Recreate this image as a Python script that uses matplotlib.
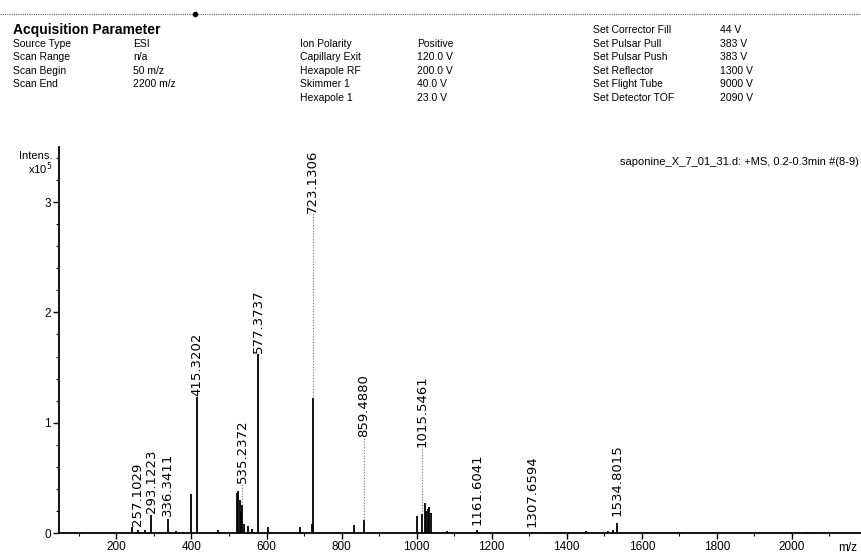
import numpy as np
import matplotlib

matplotlib.use("Agg")
import matplotlib.pyplot as plt
from matplotlib.lines import Line2D
from matplotlib.ticker import MultipleLocator

# acquisition header: (label, value) per column
COL1 = [("Source Type", "ESI"), ("Scan Range", "n/a"), ("Scan Begin", "50 m/z"),
        ("Scan End", "2200 m/z")]
COL2 = [("Ion Polarity", "Positive"), ("Capillary Exit", "120.0 V"),
        ("Hexapole RF", "200.0 V"), ("Skimmer 1", "40.0 V"), ("Hexapole 1", "23.0 V")]
COL3 = [("Set Corrector Fill", "44 V"), ("Set Pulsar Pull", "383 V"),
        ("Set Pulsar Push", "383 V"), ("Set Reflector", "1300 V"),
        ("Set Flight Tube", "9000 V"), ("Set Detector TOF", "2090 V")]
TITLE = "saponine_X_7_01_31.d: +MS, 0.2-0.3min #(8-9)"

# stick spectrum, intensity in units of 1e5
peak_mz = [241, 257.1, 275, 293.1, 336.3, 360, 398, 415.3, 470,
           520, 524, 528, 532, 535.2, 541, 550, 560, 577.4, 605,
           690, 720, 723.1, 833, 859.5,
           1000, 1015.5, 1022, 1026, 1030, 1034, 1038, 1080,
           1161.6, 1307.7, 1360, 1450, 1510, 1522, 1534.8, 1700, 2040, 2055]
peak_int = [0.05, 0.03, 0.03, 0.16, 0.13, 0.02, 0.35, 1.23, 0.03,
            0.36, 0.38, 0.30, 0.20, 0.25, 0.08, 0.06, 0.04, 1.62, 0.05,
            0.05, 0.08, 1.22, 0.07, 0.12,
            0.15, 0.17, 0.27, 0.20, 0.22, 0.24, 0.18, 0.02,
            0.03, 0.01, 0.01, 0.015, 0.02, 0.03, 0.09, 0.01, 0.01, 0.01]

# annotated peaks: m/z text, where the label starts (intensity units)
lab_mz = [257.1029, 293.1223, 336.3411, 415.3202, 535.2372, 577.3737, 723.1306,
          859.4880, 1015.5461, 1161.6041, 1307.6594, 1534.8015]
lab_peak = [0.03, 0.16, 0.13, 1.23, 0.25, 1.62, 1.22, 0.12, 0.17, 0.03, 0.01, 0.09]
lab_base = [0.06, 0.18, 0.15, 1.24, 0.45, 1.63, 2.90, 0.87, 0.78, 0.07, 0.05, 0.15]

X_TICKS = [200, 400, 600, 800, 1000, 1200, 1400, 1600, 1800, 2000]
Y_TICKS = [0, 1, 2, 3]

W, H = 861, 555
plt.rcParams["font.family"] = ["Liberation Sans", "DejaVu Sans"]

fig = plt.figure(figsize=(W / 100, H / 100), dpi=100)
ax = fig.add_axes([59 / W, 1 - 533 / H, 1 - 59 / W, (533 - 147) / H])

ax.vlines(peak_mz, 0, peak_int, color="black", lw=1.3)
for mz, pk, base in zip(lab_mz, lab_peak, lab_base):
    if base - pk > 0.08:
        ax.plot([mz, mz], [pk, base], color="0.45", lw=0.8, ls=(0, (1, 1.5)))
    ax.text(mz, base, f"{mz:.4f}", rotation=90, ha="center", va="bottom",
            fontsize=9.5, family="DejaVu Sans")

ax.set_xlim(47, 2184)
ax.set_ylim(0, 3.5)
ax.set_xticks(X_TICKS)
ax.set_yticks(Y_TICKS)
ax.xaxis.set_minor_locator(MultipleLocator(100))
ax.yaxis.set_minor_locator(MultipleLocator(0.2))
ax.tick_params(labelsize=8.5, width=1, length=4, direction="out", pad=2)
ax.tick_params(which="minor", length=2, width=0.8)
for s in ("top", "right"):
    ax.spines[s].set_visible(False)
for s in ("left", "bottom"):
    ax.spines[s].set_linewidth(1.3)

# header block
fig.add_artist(Line2D([0, 1], [1 - 14 / H] * 2, color="0.35", lw=0.8, ls=(0, (1, 1))))
fig.add_artist(Line2D([195 / W], [1 - 14 / H], marker="o", ms=3, color="black"))
fig.text(13 / W, 1 - 30 / H, "Acquisition Parameter", fontsize=10, weight="bold", va="center")
rows = [44, 57, 71, 84, 98]
for (lab, val), y in zip(COL1, rows):
    fig.text(13 / W, 1 - y / H, lab, fontsize=7.5, va="center")
    fig.text(133 / W, 1 - y / H, val, fontsize=7.5, va="center")
for (lab, val), y in zip(COL2, rows):
    fig.text(300 / W, 1 - y / H, lab, fontsize=7.5, va="center")
    fig.text(417 / W, 1 - y / H, val, fontsize=7.5, va="center")
for (lab, val), y in zip(COL3, [30] + rows):
    fig.text(593 / W, 1 - y / H, lab, fontsize=7.5, va="center")
    fig.text(720 / W, 1 - y / H, val, fontsize=7.5, va="center")

fig.text(52 / W, 1 - 156 / H, "Intens.", fontsize=8, ha="right", va="center")
fig.text(52 / W, 1 - 169 / H, "x10$^5$", fontsize=8, ha="right", va="center")
fig.text(859 / W, 1 - 162 / H, TITLE, fontsize=8, ha="right", va="center")
fig.text(848 / W, 1 - 548 / H, "m/z", fontsize=8.5, ha="center", va="center")

fig.savefig("out.png", dpi=100)
